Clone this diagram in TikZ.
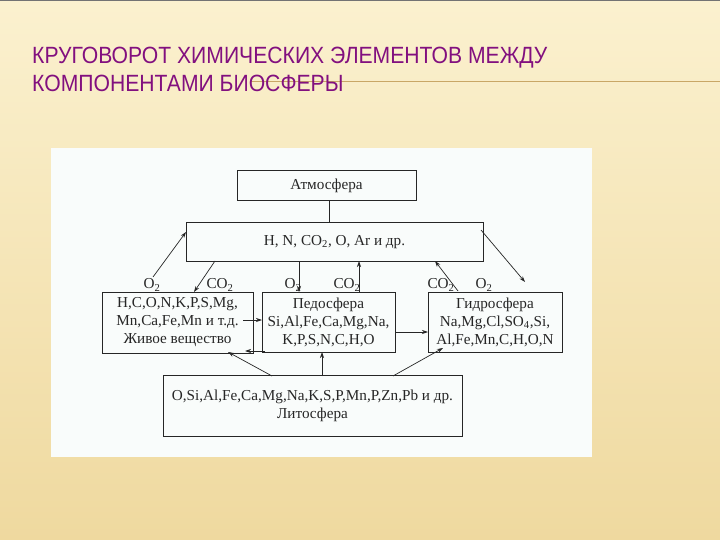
\documentclass[tikz,border=0pt]{standalone}
\usepackage{fontspec}
\setmainfont{Liberation Serif}
\newfontfamily\titlefont{Liberation Sans}
\usetikzlibrary{arrows.meta}
\definecolor{bgtop}{HTML}{FBF1CF}
\definecolor{bgbot}{HTML}{EFD99F}
\definecolor{paper}{HTML}{F9FCFB}
\definecolor{ttl}{HTML}{82107F}
\definecolor{rule}{HTML}{C9A766}
\definecolor{ink}{HTML}{262626}
\tikzset{
  box/.style={draw=ink, line width=1pt, inner sep=0pt, align=center, font=\fontsize{15.2}{18}\selectfont, text=ink},
  lab/.style={inner sep=0pt, font=\fontsize{15.2}{16}\selectfont, text=ink},
  arr/.style={draw=ink, line width=0.7pt, -{Stealth[length=6pt,width=4pt]}},
  conn/.style={draw=ink, line width=0.7pt},
  ttlstyle/.style={anchor=base west, inner sep=0pt, text=ttl, font=\titlefont\fontsize{23.5}{23.5}\selectfont}
}
\begin{document}
\begin{tikzpicture}[x=1pt,y=-1pt]
\useasboundingbox (0,0) rectangle (720,540);
\shade[top color=bgtop, bottom color=bgbot] (0,0) rectangle (720,540);
\draw[black!55, line width=1pt] (0,0.5) -- (720,0.5);
% title
\draw[rule, line width=1pt] (250,82) -- (720,82);
\node[ttlstyle] (t1) at (32,64) {\scalebox{0.9}[1]{КРУГОВОРОТ ХИМИЧЕСКИХ ЭЛЕМЕНТОВ МЕЖДУ}};
\node[ttlstyle] (t2) at (32,92) {\scalebox{0.9}[1]{КОМПОНЕНТАМИ БИОСФЕРЫ}};
% paper
\fill[paper] (51,148) rectangle (592,457);
% boxes
\node[box, minimum width=179pt, minimum height=30pt] (atm) at (326.5,186) {Атмосфера};
\node[box, minimum width=297pt, minimum height=38pt] (hn) at (334.5,242) {H, N, CO\textsubscript{2}, O, Ar и др.};
\node[box, minimum width=151pt, minimum height=61pt] (liv) at (177.5,322.5) {H,C,O,N,K,P,S,Mg,\\Mn,Ca,Fe,Mn и т.д.\\Живое вещество};
\node[box, minimum width=133pt, minimum height=60pt] (ped) at (328.5,322) {Педосфера\\Si,Al,Fe,Ca,Mg,Na,\\K,P,S,N,C,H,O};
\node[box, minimum width=134pt, minimum height=60pt] (hyd) at (495,322) {Гидросфера\\Na,Mg,Cl,SO\textsubscript{4},Si,\\Al,Fe,Mn,C,H,O,N};
\node[box, minimum width=299pt, minimum height=61pt] (lit) at (312.5,405.5) {O,Si,Al,Fe,Ca,Mg,Na,K,S,P,Mn,P,Zn,Pb и др.\\Литосфера};
% labels
\node[lab] (l1) at (152,285) {O\textsubscript{2}};
\node[lab] (l2) at (220,285) {CO\textsubscript{2}};
\node[lab] (l3) at (293,285) {O\textsubscript{2}};
\node[lab] (l4) at (347,285) {CO\textsubscript{2}};
\node[lab] (l5) at (441,285) {CO\textsubscript{2}};
\node[lab] (l6) at (484,285) {O\textsubscript{2}};
% connector coordinates
\coordinate (a1s) at (153,277);
\coordinate (a1e) at (186,232);
\coordinate (a2s) at (215,261);
\coordinate (a2e) at (194,292);
\coordinate (a3s) at (299,261);
\coordinate (a3e) at (299,292);
\coordinate (a4s) at (359,292);
\coordinate (a4e) at (359,261);
\coordinate (a5s) at (458,291);
\coordinate (a5e) at (435,261);
\coordinate (a6s) at (481,230);
\coordinate (a6e) at (525,282);
\coordinate (a7s) at (243,320);
\coordinate (a7e) at (262,320);
\coordinate (a8s) at (265,351);
\coordinate (a8e) at (245,351);
\coordinate (a9s) at (396,332);
\coordinate (a9e) at (428,332);
\coordinate (a10s) at (272,376);
\coordinate (a10e) at (228,352);
\coordinate (a11s) at (322,376);
\coordinate (a11e) at (322,352);
\coordinate (a12s) at (393,376);
\coordinate (a12e) at (443,348);
% connectors
\draw[conn] (atm.south -| 329,0) -- (hn.north -| 329,0);
\draw[arr] (a1s) -- (a1e);
\draw[arr] (a2s) -- (a2e);
\draw[arr] (a3s) -- (a3e);
\draw[arr] (a4s) -- (a4e);
\draw[arr] (a5s) -- (a5e);
\draw[arr] (a6s) -- (a6e);
\draw[arr] (a7s) -- (a7e);
\draw[arr] (a8s) -- (a8e);
\draw[arr] (a9s) -- (a9e);
\draw[arr] (a10s) -- (a10e);
\draw[arr] (a11s) -- (a11e);
\draw[arr] (a12s) -- (a12e);
\end{tikzpicture}
\end{document}
